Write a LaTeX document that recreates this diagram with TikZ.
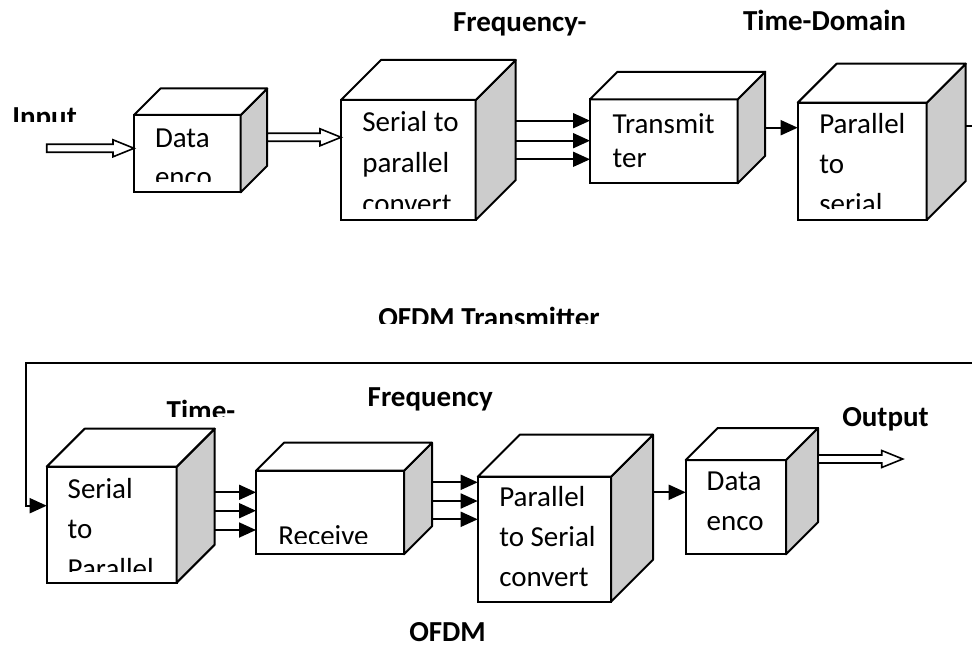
\documentclass[tikz,border=0pt]{standalone}
\usepackage{fontspec}
\setmainfont{Carlito}
\usepackage{tikz}
\usetikzlibrary{arrows.meta,calc,positioning}
\tikzstyle{front}=[draw=black, fill=white, line width=1pt, inner sep=0,
                   outer sep=0, anchor=north west]
\tikzstyle{side}=[draw=black, fill=black!20, line width=1pt, line join=round]
\tikzstyle{topface}=[draw=black, fill=white, line width=1pt, line join=round]
\tikzstyle{btext}=[align=left, anchor=base west, inner sep=0, outer sep=0]
\tikzstyle{lbl}=[anchor=base west, inner sep=0, outer sep=0,
                 font=\fontsize{14.5}{17}\selectfont\bfseries]
\tikzstyle{arr}=[line width=0.9pt, -{Triangle[length=8.5pt,width=7.5pt]}]
\tikzstyle{hollow}=[draw=black, fill=white, line width=0.8pt, line join=miter]
% cube: name, x, y (front top left), width, height, depth
\newcommand{\boxcube}[6]{%
  \node[front, minimum width={#4*0.5pt}, minimum height={#5*0.5pt}] (#1) at (#2,#3) {};
  \draw[side] (#1.north east) -- ++(#6,-#6) -- ++(0,#5) -- ++(-#6,#6) -- cycle;
  \draw[topface] (#1.north west) -- ++(#6,-#6) -- ++(#4,0) -- (#1.north east) -- cycle;
  \coordinate (#1-br) at ($(#1.north east)+(#6,0)$);}
% text in a cube (x, y = baseline of last line), cut off near the bottom
\newcommand{\boxtext}[5]{%
  \begin{scope}
    \clip (#1.north west) rectangle ($(#1.south east)+(0,-11)$);
    \node[btext, font=\fontsize{14.5}{#4}\selectfont] (#1-txt) at (#2,#3) {#5};
  \end{scope}}
\newcommand{\hollowarrow}[2]{%
  \draw[hollow] ($(#1)+(0,-4)$) -- ($(#2)+(-21,-4)$) -- ($(#2)+(-21,-8.5)$) -- (#2)
    -- ($(#2)+(-21,8.5)$) -- ($(#2)+(-21,4)$) -- ($(#1)+(0,4)$) -- cycle;}

\begin{document}
\begin{tikzpicture}[x=0.5pt, y=-0.5pt]
\path[use as bounding box] (0,0) rectangle (972,646);
\clip (0,0) rectangle (972,646);

% transmitter
\boxcube{enc1}{134}{115}{106.7}{77.3}{26.5}
\boxcube{s2p1}{341}{100}{134.7}{120}{40}
\boxcube{tx}{590}{99.3}{147.7}{84}{27.5}
\boxcube{p2s1}{797.7}{102.7}{129}{117.3}{39}
\boxtext{enc1}{155}{186.7}{19.5}{Data\\enco}
\boxtext{s2p1}{362.3}{213.7}{20.5}{Serial to\\parallel\\convert}
\boxtext{tx}{612.7}{167.3}{17}{Transmit\\ter}
\boxtext{p2s1}{819.3}{213.3}{20}{Parallel\\to\\serial}

% receiver
\boxcube{s2p2}{46.7}{466.7}{130}{116}{38}
\boxcube{rx}{256}{470.7}{148}{83.6}{28}
\boxcube{p2s2}{477.7}{476.7}{133.3}{125}{42}
\boxcube{enc2}{685.7}{460}{100.3}{94.3}{32}
\boxtext{s2p2}{67.7}{578.3}{20}{Serial\\to\\Parallel}
\boxtext{rx}{278.3}{545}{20}{Receive}
\boxtext{p2s2}{499.3}{586.7}{20}{Parallel\\to Serial\\convert}
\boxtext{enc2}{706.7}{530}{20}{Data\\enco}

% labels
\begin{scope}
  \clip (0,90) rectangle (120,121.7);
  \node[lbl] (input) at (12.3,127) {Input};
\end{scope}
\node[lbl] (freq1) at (453,31.7) {Frequency-};
\node[lbl] (time1) at (743,30.7) {Time-Domain};
\begin{scope}
  \clip (360,290) rectangle (660,323.3);
  \node[lbl] (title1) at (378.3,327) {OFDM Transmitter};
\end{scope}
\begin{scope}
  \clip (150,380) rectangle (260,416.7);
  \node[lbl] (time2) at (166.7,420.4) {Time-};
\end{scope}
\node[lbl] (freq2) at (367.7,406.7) {Frequency};
\node[lbl] (output) at (842.3,426.7) {Output};
\node[lbl] (title2) at (409.3,641) {OFDM};

% connections
\coordinate (in) at (46.7,148.3);
\coordinate (in-end) at (in -| enc1.west);
\hollowarrow{in}{in-end}
\coordinate (e1) at ($(enc1-br)+(0,22.3)$);
\coordinate (e1-end) at (e1 -| s2p1.west);
\hollowarrow{e1}{e1-end}
\foreach \dy in {20.7,40.7,59.3}
  \draw[arr] (s2p1-br) ++(0,\dy) coordinate (t) -- (t -| tx.west);
\draw[arr] (tx-br) ++(0,28.4) coordinate (t) -- (t -| p2s1.west);
\coordinate (fb-r) at (990,363.3);
\coordinate (fb-l) at (25.7,363.3);
\draw[arr] (p2s1-br) ++(0,23.3) -| (fb-r) -- (fb-l) |- ($(s2p2.north west)+(0,39)$);
\foreach \dy in {25.6,44,63.3}
  \draw[arr] (s2p2-br) ++(0,\dy) coordinate (t) -- (t -| rx.west);
\foreach \dy in {11.6,30.3,48.6}
  \draw[arr] (rx-br) ++(0,\dy) coordinate (t) -- (t -| p2s2.west);
\draw[arr] (p2s2-br) ++(0,15.6) coordinate (t) -- (t -| enc2.west);
\coordinate (e2) at ($(enc2-br)+(0,-1)$);
\coordinate (out) at (902.7,459);
\hollowarrow{e2}{out}
\end{tikzpicture}
\end{document}
